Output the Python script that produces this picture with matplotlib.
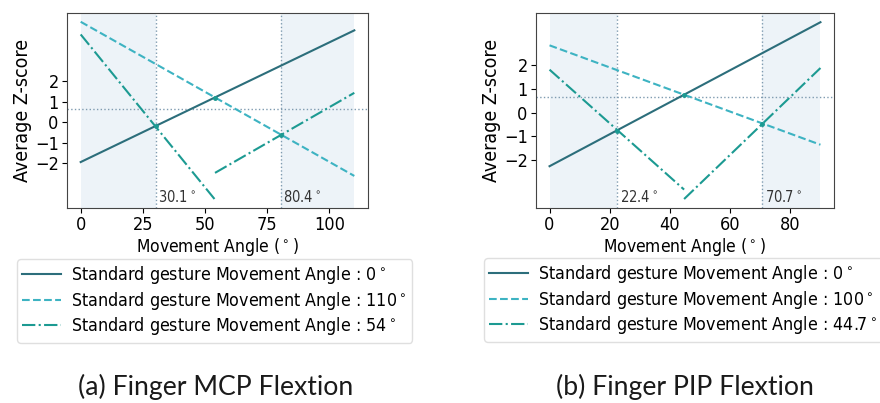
import numpy as np
import matplotlib
matplotlib.use("Agg")
import matplotlib.pyplot as plt
from matplotlib.transforms import blended_transform_factory
from matplotlib.font_manager import FontProperties

# ---------------- data ----------------
# (a) Finger MCP flexion
mcp_angles = [0, 110]
mcp_std0 = [-1.95, 4.5]
mcp_std110 = [4.92, -2.63]
mcp_std54_a_angles = [0, 54]
mcp_std54_a = [4.3, -3.79]
mcp_std54_b_angles = [54, 110]
mcp_std54_b = [-2.48, 1.44]
mcp_cross_angles = [30.1, 54, 80.4]
mcp_cross_values = [-0.2, 1.21, -0.61]
mcp_bounds = [30.1, 80.4]
mcp_labels = ["Standard gesture Movement Angle : 0$^\\circ$",
              "Standard gesture Movement Angle : 110$^\\circ$",
              "Standard gesture Movement Angle : 54$^\\circ$"]

# (b) Finger PIP flexion
pip_angles = [0, 90]
pip_std0 = [-2.27, 3.83]
pip_std100 = [2.85, -1.36]
pip_std447_a_angles = [0, 44.7]
pip_std447_a = [1.82, -3.26]
pip_std447_b_angles = [44.7, 90]
pip_std447_b = [-3.66, 1.89]
pip_cross_angles = [22.4, 44.7, 70.7]
pip_cross_values = [-0.76, 0.74, -0.47]
pip_bounds = [22.4, 70.7]
pip_labels = ["Standard gesture Movement Angle : 0$^\\circ$",
              "Standard gesture Movement Angle : 100$^\\circ$",
              "Standard gesture Movement Angle : 44.7$^\\circ$"]

threshold = 0.67
yticks = [-2, -1, 0, 1, 2]
mcp_xticks = [0, 25, 50, 75, 100]
pip_xticks = [0, 20, 40, 60, 80]

captions = ["(a) Finger MCP Flextion", "(b) Finger PIP Flextion"]

# ---------------- style ----------------
C_SOLID = "#2c6e7b"
C_DASH = "#3db3c2"
C_DASHDOT = "#1c9a92"
C_SHADE = "#edf3f8"
C_GUIDE = "#7f9bb0"

W, H = 880, 403
fig = plt.figure(figsize=(W / 100, H / 100), dpi=100)


def fp(size):
    return FontProperties(family="DejaVu Sans", stretch="condensed", size=size)


def panel(rect, angles, s0, s1, a_ang, a_val, b_ang, b_val, cx, cy,
          bounds, xticks, ylim, labels, legend_anchor):
    ax = fig.add_axes(rect)
    lo, hi = angles[0], angles[-1]
    ax.axvspan(lo, bounds[0], color=C_SHADE, lw=0, zorder=0)
    ax.axvspan(bounds[1], hi, color=C_SHADE, lw=0, zorder=0)
    for b in bounds:
        ax.axvline(b, color=C_GUIDE, ls=":", lw=1.0, zorder=1)
    ax.axhline(threshold, color=C_GUIDE, ls=":", lw=1.0, zorder=1)
    l0, = ax.plot(angles, s0, color=C_SOLID, lw=1.5, ls="-", zorder=3)
    l1, = ax.plot(angles, s1, color=C_DASH, lw=1.5, ls="--", zorder=3)
    l2, = ax.plot(a_ang, a_val, color=C_DASHDOT, lw=1.5, ls="-.", zorder=3)
    ax.plot(b_ang, b_val, color=C_DASHDOT, lw=1.5, ls="-.", zorder=3)
    ax.plot(cx, cy, "o", color=C_DASHDOT, ms=2.5, zorder=4)
    trans = blended_transform_factory(ax.transData, ax.transAxes)
    for b in bounds:
        ax.text(b + 1, 0.03, f"{b}$^\\circ$", transform=trans,
                fontproperties=fp(10.5), color="#333333",
                ha="left", va="baseline")
    ax.set_xticks(xticks)
    ax.set_yticks(yticks)
    ax.set_ylim(*ylim)
    ax.tick_params(length=3.5, pad=2.5)
    for t in ax.get_xticklabels() + ax.get_yticklabels():
        t.set_fontproperties(fp(13))
    ax.set_xlabel("Movement Angle ($^\\circ$)", fontproperties=fp(12.5),
                  labelpad=1)
    ax.set_ylabel("Average Z-score", fontproperties=fp(14), labelpad=2)
    for s in ax.spines.values():
        s.set_color("#444444")
    fig.legend([l0, l1, l2], labels, loc="upper left",
               bbox_to_anchor=legend_anchor, borderaxespad=0,
               prop=fp(12.8), handlelength=2.2, handletextpad=0.55,
               borderpad=0.3, labelspacing=0.2,
               frameon=True, edgecolor="#d8d8d8", fancybox=True)
    return ax


ax1 = panel([67 / W, 1 - 208 / H, 301 / W, 195 / H],
            mcp_angles, mcp_std0, mcp_std110,
            mcp_std54_a_angles, mcp_std54_a, mcp_std54_b_angles, mcp_std54_b,
            mcp_cross_angles, mcp_cross_values, mcp_bounds, mcp_xticks,
            (-4.2, 5.35), mcp_labels, (17 / W, 1 - 259 / H))

ax2 = panel([536 / W, 1 - 208 / H, 298 / W, 195 / H],
            pip_angles, pip_std0, pip_std100,
            pip_std447_a_angles, pip_std447_a, pip_std447_b_angles, pip_std447_b,
            pip_cross_angles, pip_cross_values, pip_bounds, pip_xticks,
            (-4.04, 4.22), pip_labels, (484 / W, 1 - 258 / H))

for cx, cap in zip([216, 685], captions):
    fig.text(cx / W, 1 - 387 / H, cap, ha="center", va="center",
             fontsize=19.2, family=["Lato", "DejaVu Sans"],
             color="#1a1a1a")

fig.savefig("out.png", dpi=100, facecolor="white")
